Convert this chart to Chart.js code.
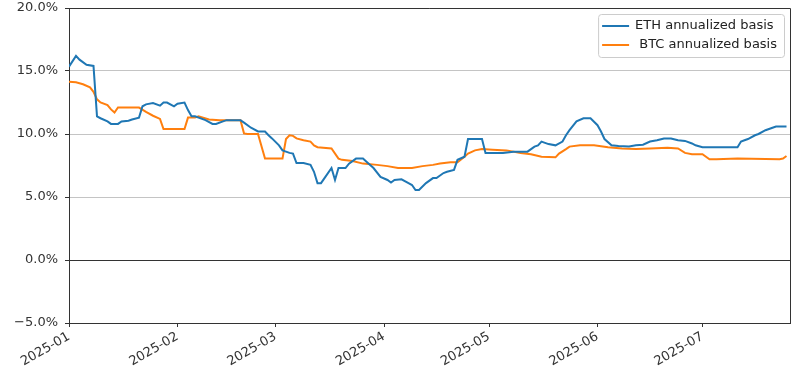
<!DOCTYPE html>
<html>
<head>
<meta charset="utf-8">
<script src="https://cdn.jsdelivr.net/npm/chart.js@4/dist/chart.umd.min.js"></script>
<style>
html,body{margin:0;padding:0;background:#fff;}
#wrap{width:800px;height:380px;}
</style>
</head>
<body>
<div id="wrap"><canvas id="c" width="800" height="380"></canvas></div>
<script>
// Day offsets from 2025-01-01
const monthTickDays = [0, 31, 59, 90, 120, 151, 181];
const monthTickLabels = ['2025-01','2025-02','2025-03','2025-04','2025-05','2025-06','2025-07'];
const yTicks = [-5, 0, 5, 10, 15, 20];

const ethDays = [0,2,3,5,7,8,9,11,12,14,15,17,18,20,21,22,24,26,27,28,30,31,33,34,35,36,39,41,42,44,45,49,50,52,54,56,57,58,60,61,63,64,65,67,69,70,71,72,73,75,76,77,79,80,82,84,85,87,89,91,92,93,95,97,98,99,100,102,104,105,107,108,110,111,113,114,118,119,124,127,131,133,134,135,137,139,141,142,143,145,147,149,151,152,153,155,157,160,162,164,166,168,170,172,174,176,178,179,181,183,191,192,193,194,196,197,199,201,202,205];
const ethBasis = [15.35,16.2,15.9,15.5,15.4,11.4,11.25,11.0,10.8,10.8,11.0,11.05,11.15,11.3,12.2,12.35,12.45,12.25,12.5,12.5,12.2,12.4,12.5,11.9,11.4,11.4,11.1,10.8,10.8,11.0,11.1,11.1,10.9,10.5,10.2,10.2,9.9,9.65,9.1,8.7,8.5,8.45,7.7,7.7,7.55,7.0,6.1,6.1,6.5,7.3,6.35,7.3,7.3,7.65,8.05,8.05,7.8,7.3,6.6,6.35,6.15,6.35,6.4,6.1,5.95,5.55,5.55,6.1,6.5,6.5,6.9,7.0,7.15,7.95,8.2,9.6,9.6,8.5,8.5,8.6,8.6,9.0,9.1,9.4,9.2,9.1,9.4,9.9,10.3,11.0,11.25,11.25,10.7,10.2,9.6,9.1,9.05,9.0,9.1,9.15,9.4,9.5,9.65,9.65,9.5,9.45,9.25,9.1,8.95,8.95,8.95,9.4,9.5,9.6,9.9,10.0,10.3,10.5,10.6,10.6];

const btcDays = [0,2,4,6,7,8,9,11,12,13,14,16,20,22,24,26,27,33,34,36,37,40,43,49,50,51,54,56,57,61,62,63,64,65,67,69,70,71,75,77,78,81,84,88,91,94,98,101,104,106,109,111,113,114,116,118,121,125,129,132,135,139,140,142,143,146,150,154,158,162,166,171,174,176,178,181,183,185,191,203,204,205];
const btcBasis = [14.15,14.1,13.95,13.7,13.35,12.75,12.5,12.3,11.95,11.7,12.1,12.1,12.1,11.75,11.45,11.2,10.4,10.4,11.3,11.3,11.4,11.15,11.1,11.1,10.05,10.0,10.0,8.05,8.05,8.05,9.6,9.9,9.85,9.65,9.5,9.4,9.1,8.95,8.85,8.05,7.95,7.85,7.65,7.55,7.45,7.3,7.3,7.45,7.55,7.65,7.75,7.75,8.2,8.45,8.7,8.8,8.75,8.7,8.5,8.4,8.2,8.15,8.45,8.8,9.0,9.1,9.1,8.95,8.85,8.8,8.85,8.9,8.85,8.5,8.4,8.4,8.0,8.0,8.05,8.0,8.05,8.25];

const seriesLabels = ['ETH annualized basis', ' BTC annualized basis'];
const seriesColors = ['#1f77b4', '#ff7f0e'];

const toPts = (xs, ys) => xs.map((d, i) => ({x: d, y: ys[i]}));
const FONT = "'DejaVu Sans', sans-serif";

const framePlugin = {
  id: 'frame',
  afterDatasetsDraw(chart) {
    const {ctx, chartArea: a} = chart;
    ctx.save();
    ctx.strokeStyle = '#333';
    ctx.lineWidth = 1;
    ctx.beginPath();
    ctx.moveTo(a.left, a.top + 0.5);
    ctx.lineTo(a.right + 0.5, a.top + 0.5);
    ctx.lineTo(a.right + 0.5, a.bottom);
    ctx.stroke();
    ctx.restore();
  }
};

const legendPlugin = {
  id: 'boxLegend',
  afterDraw(chart) {
    const {ctx, chartArea: a} = chart;
    const ds = chart.data.datasets;
    ctx.save();
    ctx.font = '13px ' + FONT;
    let maxW = 0;
    ds.forEach(d => { maxW = Math.max(maxW, ctx.measureText(d.label).width); });
    const lineLen = 27, gap = 6, padL = 4, padR = 7, rowH = 19, padY = 5;
    const w = padL + lineLen + gap + maxW + padR;
    const h = padY * 2 + rowH * ds.length - 5;
    const x0 = a.right - 6 - w, y0 = a.top + 6;
    ctx.fillStyle = 'rgba(255,255,255,0.85)';
    ctx.strokeStyle = '#cccccc';
    ctx.lineWidth = 1;
    ctx.beginPath();
    ctx.roundRect(x0 + 0.5, y0 + 0.5, w, h, 3);
    ctx.fill();
    ctx.stroke();
    ds.forEach((d, i) => {
      const cy = y0 + padY + rowH * i + 7;
      ctx.strokeStyle = d.borderColor;
      ctx.lineWidth = 2;
      ctx.beginPath();
      ctx.moveTo(x0 + padL, cy);
      ctx.lineTo(x0 + padL + lineLen, cy);
      ctx.stroke();
      ctx.fillStyle = '#222';
      ctx.textBaseline = 'middle';
      ctx.textAlign = 'left';
      ctx.fillText(d.label, x0 + padL + lineLen + gap, cy);
    });
    ctx.restore();
  }
};

new Chart(document.getElementById('c'), {
  type: 'line',
  data: {
    datasets: [
      {label: seriesLabels[0], data: toPts(ethDays, ethBasis), borderColor: seriesColors[0], backgroundColor: seriesColors[0], borderWidth: 2, pointRadius: 0, tension: 0, fill: false},
      {label: seriesLabels[1], data: toPts(btcDays, btcBasis), borderColor: seriesColors[1], backgroundColor: seriesColors[1], borderWidth: 2, pointRadius: 0, tension: 0, fill: false}
    ]
  },
  options: {
    responsive: false,
    animation: false,
    layout: {padding: {left: 0, top: 8, right: 10, bottom: 0}},
    plugins: {legend: {display: false}, tooltip: {enabled: false}},
    scales: {
      x: {
        type: 'linear',
        min: 0,
        max: 206,
        afterBuildTicks: axis => { axis.ticks = monthTickDays.map(v => ({value: v})); },
        afterFit: axis => { axis.height = 57; axis.paddingRight = 0; },
        ticks: {
          autoSkip: false,
          minRotation: 30,
          maxRotation: 30,
          padding: 2,
          color: '#333',
          font: {family: FONT, size: 13},
          callback: (v) => { const i = monthTickDays.indexOf(v); return i >= 0 ? monthTickLabels[i] : ''; }
        },
        grid: {drawOnChartArea: false, drawTicks: true, tickLength: 4, tickColor: '#333'},
        border: {color: '#333', width: 1}
      },
      y: {
        min: -5,
        max: 20,
        afterBuildTicks: axis => { axis.ticks = yTicks.map(v => ({value: v})); },
        afterFit: axis => { axis.width = 69; axis.paddingTop = 0; axis.paddingBottom = 0; },
        ticks: {
          padding: 7,
          color: '#333',
          font: {family: FONT, size: 13},
          callback: v => (v < 0 ? '\u2212' : '') + Math.abs(v).toFixed(1) + '%'
        },
        grid: {
          color: ctx => (ctx.tick && ctx.tick.value === 0) ? '#333' : '#c4c4c4',
          lineWidth: 1,
          tickLength: 4,
          tickColor: '#333'
        },
        border: {color: '#333', width: 1}
      }
    }
  },
  plugins: [framePlugin, legendPlugin]
});
</script>
</body>
</html>
